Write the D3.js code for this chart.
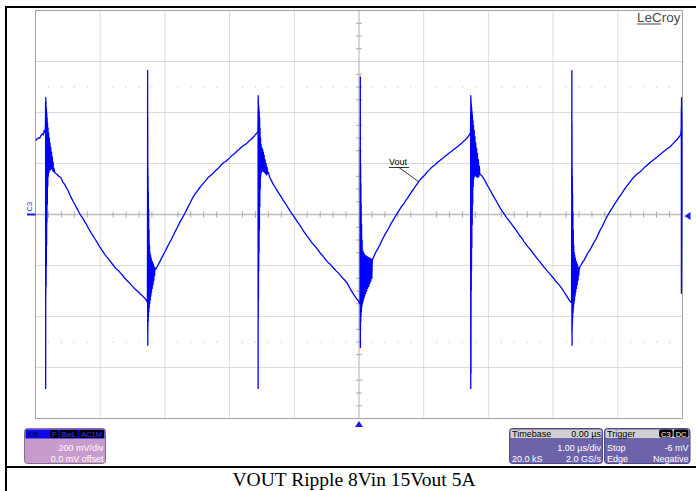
<!DOCTYPE html>
<html>
<head>
<meta charset="utf-8">
<script src="https://cdn.jsdelivr.net/npm/d3@7"></script>
<style>
  html, body { margin: 0; padding: 0; background: #fff; }
  svg { display: block; }
</style>
</head>
<body>
<svg id="chart" width="696" height="491"></svg>
<script>
// ---- scope settings ----
const xDivsUs = [-5, -4, -3, -2, -1, 0, 1, 2, 3, 4, 5];          // 1.00 µs/div
const yDivsMv = [-800, -600, -400, -200, 0, 200, 400, 600, 800];  // 200 mV/div
const triggerLevelMv = -6;
const triggerTimeUs = 0;

// ---- C3 trace: [time µs, voltage mV] ----
const trace = [
  [-5.000, 290], [-4.975, 296], [-4.955, 301], [-4.935, 299], [-4.915, 310], [-4.895, 316], [-4.880, 312], [-4.865, 330], [-4.852, 322],
  // switching edge
  [-4.846, 352], [-4.844, 440], [-4.843, -682], [-4.841, 458], [-4.840, -309], [-4.838, 445], [-4.836, -280], [-4.834, 420], [-4.832, -200],
  [-4.830, 412], [-4.828, -120], [-4.826, 396], [-4.823, -30], [-4.820, 380], [-4.817, 40], [-4.814, 360], [-4.810, 110], [-4.806, 340],
  [-4.802, 150], [-4.797, 320], [-4.792, 165], [-4.787, 300], [-4.782, 172], [-4.776, 282], [-4.770, 176], [-4.764, 262], [-4.758, 180],
  [-4.752, 245], [-4.746, 178], [-4.740, 225], [-4.734, 172], [-4.728, 205], [-4.722, 168], [-4.715, 182],
  // discharge ramp
  [-4.700, 164], [-4.670, 158], [-4.640, 150], [-4.609, 145], [-4.580, 128], [-4.550, 118], [-4.520, 104], [-4.490, 90], [-4.454, 69],
  [-4.420, 52], [-4.390, 38], [-4.360, 24], [-4.330, 10], [-4.300, -4], [-4.270, -14], [-4.240, -28], [-4.210, -40], [-4.180, -55],
  [-4.145, -70], [-4.110, -84], [-4.080, -96], [-4.050, -108], [-4.020, -122], [-3.991, -133], [-3.960, -145], [-3.930, -156],
  [-3.900, -166], [-3.870, -175], [-3.837, -186], [-3.800, -198], [-3.770, -208], [-3.740, -216], [-3.710, -222], [-3.682, -231],
  [-3.650, -240], [-3.620, -250], [-3.590, -258], [-3.560, -265], [-3.528, -274], [-3.500, -282], [-3.470, -290], [-3.440, -297],
  [-3.410, -304], [-3.380, -312], [-3.350, -318], [-3.320, -326], [-3.296, -333], [-3.280, -340],
  // switching edge
  [-3.270, -345], [-3.268, 120], [-3.267, 564], [-3.266, -466], [-3.265, 380], [-3.264, -513], [-3.263, 184], [-3.262, -440], [-3.260, 150],
  [-3.258, -420], [-3.256, 90], [-3.254, -400], [-3.251, 20], [-3.248, -380], [-3.245, -60], [-3.242, -365], [-3.238, -120], [-3.234, -349],
  [-3.230, -150], [-3.226, -335], [-3.222, -160], [-3.217, -320], [-3.212, -170], [-3.207, -305], [-3.202, -180], [-3.196, -290],
  [-3.190, -188], [-3.184, -275], [-3.178, -195], [-3.172, -260], [-3.166, -205], [-3.160, -240], [-3.154, -210],
  // charge ramp
  [-3.140, -214], [-3.110, -200], [-3.080, -186], [-3.050, -170], [-3.020, -156], [-2.988, -141], [-2.960, -126], [-2.930, -112],
  [-2.900, -98], [-2.870, -82], [-2.840, -66], [-2.810, -52], [-2.780, -36], [-2.750, -22], [-2.710, -4], [-2.680, 10], [-2.650, 26],
  [-2.620, 40], [-2.590, 56], [-2.560, 70], [-2.530, 82], [-2.500, 92], [-2.470, 102], [-2.440, 112], [-2.410, 121], [-2.380, 130],
  [-2.339, 143], [-2.300, 152], [-2.270, 158], [-2.240, 166], [-2.210, 174], [-2.180, 180], [-2.150, 188], [-2.120, 197], [-2.090, 204],
  [-2.060, 208], [-2.030, 215], [-2.000, 222], [-1.970, 230], [-1.940, 235], [-1.910, 242], [-1.880, 250], [-1.850, 256], [-1.820, 264],
  [-1.790, 270], [-1.760, 274], [-1.730, 280], [-1.700, 288], [-1.670, 294], [-1.640, 302], [-1.610, 310], [-1.585, 318], [-1.570, 322],
  // switching edge
  [-1.562, 330], [-1.560, 410], [-1.559, -682], [-1.558, 466], [-1.557, -403], [-1.556, 450], [-1.554, -330], [-1.552, 430], [-1.550, -220],
  [-1.548, 420], [-1.545, -150], [-1.542, 405], [-1.539, -60], [-1.536, 380], [-1.533, 30], [-1.530, 340], [-1.526, 100], [-1.522, 300],
  [-1.518, 150], [-1.513, 275], [-1.508, 165], [-1.502, 262], [-1.496, 170], [-1.490, 255], [-1.484, 172], [-1.478, 245], [-1.472, 168],
  [-1.466, 232], [-1.460, 165], [-1.452, 215], [-1.444, 160], [-1.436, 200], [-1.428, 155], [-1.420, 185], [-1.410, 160], [-1.400, 165],
  // discharge ramp
  [-1.380, 146], [-1.350, 131], [-1.320, 116], [-1.289, 104], [-1.260, 92], [-1.230, 80], [-1.200, 68], [-1.170, 55], [-1.135, 43],
  [-1.100, 28], [-1.070, 16], [-1.040, 4], [-1.010, -6], [-0.980, -18], [-0.950, -30], [-0.920, -40], [-0.890, -52], [-0.860, -64],
  [-0.830, -75], [-0.800, -86], [-0.770, -96], [-0.740, -106], [-0.710, -116], [-0.680, -124], [-0.650, -134], [-0.620, -144],
  [-0.594, -153], [-0.560, -162], [-0.530, -172], [-0.500, -182], [-0.470, -190], [-0.440, -196], [-0.410, -206], [-0.380, -214],
  [-0.350, -222], [-0.320, -229], [-0.286, -239], [-0.250, -250], [-0.220, -258], [-0.190, -266], [-0.160, -280], [-0.130, -294],
  [-0.100, -306], [-0.070, -318], [-0.040, -329], [-0.010, -340], [0.010, -349],
  // switching edge
  [0.016, -330], [0.018, 262], [0.019, -454], [0.020, 540], [0.021, -521], [0.022, 250], [0.023, -440], [0.025, 200], [0.027, -420],
  [0.029, 120], [0.031, -400], [0.034, 40], [0.037, -380], [0.040, -40], [0.044, -364], [0.048, -100], [0.053, -350], [0.058, -141],
  [0.064, -340], [0.070, -150], [0.076, -330], [0.082, -155], [0.088, -320], [0.095, -160], [0.102, -310], [0.110, -162], [0.118, -300],
  [0.126, -165], [0.134, -290], [0.142, -168], [0.150, -282], [0.158, -170], [0.166, -272], [0.174, -172], [0.182, -262], [0.190, -175],
  [0.198, -250], [0.206, -178],
  // charge ramp
  [0.224, -168], [0.255, -150], [0.286, -137], [0.320, -120], [0.350, -104], [0.378, -90], [0.410, -74], [0.440, -62], [0.470, -48],
  [0.500, -34], [0.533, -20], [0.565, -6], [0.595, 6], [0.625, 18], [0.660, 32], [0.690, 42], [0.720, 54], [0.750, 64], [0.780, 76],
  [0.810, 88], [0.840, 98], [0.870, 110], [0.900, 120], [0.930, 132], [0.960, 140], [0.990, 148], [1.020, 156], [1.058, 168],
  [1.090, 176], [1.120, 184], [1.150, 190], [1.180, 196], [1.212, 204], [1.240, 210], [1.270, 216], [1.300, 222], [1.330, 228],
  [1.366, 235], [1.400, 242], [1.430, 248], [1.460, 254], [1.490, 260], [1.521, 266], [1.550, 272], [1.580, 278], [1.613, 286],
  [1.640, 292], [1.670, 300], [1.700, 310], [1.718, 318],
  // switching edge
  [1.724, 325], [1.726, 400], [1.727, -682], [1.728, 466], [1.729, -325], [1.730, 455], [1.731, -623], [1.733, 440], [1.735, -300],
  [1.737, 430], [1.739, -220], [1.741, 420], [1.744, -130], [1.747, 405], [1.750, -40], [1.753, 390], [1.757, 40], [1.761, 370],
  [1.765, 110], [1.770, 350], [1.775, 140], [1.780, 330], [1.786, 150], [1.792, 305], [1.798, 155], [1.804, 280], [1.810, 150],
  [1.817, 260], [1.824, 148], [1.831, 240], [1.838, 145], [1.845, 215], [1.852, 150], [1.860, 190], [1.868, 158],
  // discharge ramp
  [1.880, 156], [1.905, 150], [1.930, 140], [1.960, 126], [1.990, 112], [2.030, 94], [2.060, 80], [2.090, 66], [2.120, 54], [2.150, 40],
  [2.185, 24], [2.215, 12], [2.245, 2], [2.275, -10], [2.305, -20], [2.339, -31], [2.370, -42], [2.400, -52], [2.430, -62], [2.460, -74],
  [2.494, -86], [2.525, -96], [2.555, -108], [2.585, -118], [2.615, -128], [2.648, -137], [2.680, -148], [2.710, -158], [2.740, -168],
  [2.770, -178], [2.802, -188], [2.835, -198], [2.865, -208], [2.895, -217], [2.925, -226], [2.957, -235], [2.990, -245], [3.020, -254],
  [3.050, -264], [3.080, -272], [3.111, -282], [3.140, -292], [3.170, -304], [3.204, -317], [3.230, -328], [3.255, -338],
  // switching edge
  [3.285, -345], [3.288, 100], [3.290, 564], [3.291, -466], [3.292, 360], [3.293, -513], [3.294, 184], [3.295, -450], [3.297, 150],
  [3.299, -425], [3.301, 80], [3.303, -405], [3.306, 10], [3.309, -385], [3.312, -60], [3.315, -368], [3.319, -120], [3.323, -350],
  [3.327, -150], [3.331, -336], [3.335, -160], [3.340, -320], [3.345, -172], [3.350, -305], [3.355, -182], [3.361, -290], [3.367, -190],
  [3.373, -275], [3.379, -198], [3.385, -258], [3.391, -208], [3.397, -238], [3.403, -214],
  // charge ramp
  [3.415, -205], [3.440, -194], [3.465, -184], [3.482, -178], [3.510, -164], [3.540, -150], [3.574, -137], [3.605, -122], [3.635, -108],
  [3.667, -94], [3.700, -76], [3.730, -60], [3.759, -47], [3.790, -30], [3.820, -14], [3.852, 0], [3.885, 14], [3.915, 26], [3.945, 39],
  [3.975, 50], [4.005, 62], [4.037, 74], [4.070, 86], [4.100, 98], [4.130, 108], [4.161, 118], [4.192, 129], [4.225, 140], [4.255, 148],
  [4.284, 156], [4.315, 162], [4.346, 168], [4.380, 176], [4.410, 184], [4.440, 190], [4.470, 197], [4.500, 204], [4.530, 210],
  [4.560, 216], [4.590, 222], [4.620, 228], [4.655, 235], [4.685, 242], [4.715, 248], [4.745, 254], [4.775, 260], [4.809, 266],
  [4.840, 274], [4.870, 282], [4.900, 290], [4.917, 294], [4.940, 302], [4.963, 309], [4.975, 318],
  // switching edge (cut at the right edge)
  [4.980, 340], [4.982, 420], [4.983, -309], [4.985, 458], [4.986, -280], [4.988, 440], [4.989, -200], [4.991, 420], [4.993, -120],
  [4.995, 400], [4.997, 0], [5.000, 380]
];

// ---- annotation & readouts ----
const traceLabel = "Vout";
const traceLabelAnchor = [0.92, 129];
const channelName = "C3";
const channelTags = ["F", "BwL", "AC1M"];
const channelLines = ["200 mV/div", "0.0 mV offset"];
const timebaseRows = [["Timebase", "0.00 µs"], ["", "1.00 µs/div"], ["20.0 kS", "2.0 GS/s"]];
const triggerRows = [["Trigger", ""], ["Stop", "-6 mV"], ["Edge", "Negative"]];
const triggerTags = ["C3", "DC"];
const brand = "LeCroy";
const caption = "VOUT Ripple 8Vin 15Vout 5A";

// ---- drawing ----
const svg = d3.select("#chart");
const UI_FONT = "'Liberation Sans', Arial, sans-serif";

svg.append("rect").attr("width", 696).attr("height", 491).attr("fill", "#fff");

const x = d3.scaleLinear().domain([-5, 5]).range([35.5, 682.5]);
const y = d3.scaleLinear().domain([-800, 800]).range([418.5, 10.5]);
const [x0, x1] = x.range();
const [yb, yt] = y.range();

// page frame and caption rule
svg.append("line").attr("x1", 6).attr("x2", 6).attr("y1", 6).attr("y2", 491).attr("stroke", "#000").attr("stroke-width", 2);
svg.append("line").attr("x1", 5).attr("x2", 696).attr("y1", 7).attr("y2", 7).attr("stroke", "#000").attr("stroke-width", 2);
svg.append("line").attr("x1", 5).attr("x2", 696).attr("y1", 467).attr("y2", 467).attr("stroke", "#000").attr("stroke-width", 2);

// graticule
const grid = svg.append("g");
grid.selectAll(".vg").data(xDivsUs.slice(1, -1).filter(d => d !== 0)).join("line")
  .attr("x1", d => x(d)).attr("x2", d => x(d)).attr("y1", yt).attr("y2", yb)
  .attr("stroke", "#b9b9b9").attr("stroke-dasharray", "1,1");
grid.selectAll(".hg").data(yDivsMv.slice(1, -1).filter(d => d !== 0)).join("line")
  .attr("x1", x0).attr("x2", x1).attr("y1", d => y(d)).attr("y2", d => y(d))
  .attr("stroke", "#b9b9b9").attr("stroke-dasharray", "1,1");

// dotted quarter rows at ±2.5 div
const minorX = d3.range(-50, 51, 2).map(k => k / 10).filter(d => Math.abs(d % 1) > 1e-6);
[-500, 500].forEach(v => {
  grid.selectAll(null).data(minorX).join("rect")
    .attr("x", d => x(d) - 0.5).attr("y", y(v) - 0.5).attr("width", 1).attr("height", 1)
    .attr("fill", "#b0b0b0");
});

// centre axes with minor ticks
grid.append("line").attr("x1", x0).attr("x2", x1).attr("y1", y(0)).attr("y2", y(0))
  .attr("stroke", "#bdbdbd").attr("stroke-width", 1.6);
grid.append("line").attr("x1", x(0)).attr("x2", x(0)).attr("y1", yt).attr("y2", yb)
  .attr("stroke", "#bdbdbd").attr("stroke-width", 1.2);
grid.selectAll(".mx").data(minorX).join("line")
  .attr("x1", d => x(d)).attr("x2", d => x(d)).attr("y1", y(0) - 3).attr("y2", y(0) + 3)
  .attr("stroke", "#a8a8a8");
const minorY = d3.range(-16, 17).map(k => k * 50).filter(d => d % 200 !== 0);
grid.selectAll(".my").data(minorY).join("line")
  .attr("x1", x(0) - 3).attr("x2", x(0) + 3).attr("y1", d => y(d)).attr("y2", d => y(d))
  .attr("stroke", "#a8a8a8");

// plot border
svg.append("rect").attr("x", x0).attr("y", yt).attr("width", x1 - x0).attr("height", yb - yt)
  .attr("fill", "none").attr("stroke", "#a4a4a4");

// brand mark
svg.append("text").attr("x", 637).attr("y", 22).text(brand)
  .attr("font-family", UI_FONT).attr("font-size", 13.5).attr("fill", "#4a4a4a");
svg.append("line").attr("x1", 637).attr("x2", 661).attr("y1", 24).attr("y2", 24)
  .attr("stroke", "#4a4a4a").attr("stroke-width", 1);

// trace
svg.append("clipPath").attr("id", "plotClip").append("rect")
  .attr("x", x0).attr("y", yt).attr("width", x1 - x0).attr("height", yb - yt);
const line = d3.line().x(d => x(d[0])).y(d => y(d[1]));
svg.append("path").datum(trace).attr("d", line)
  .attr("clip-path", "url(#plotClip)")
  .attr("fill", "none").attr("stroke", "#0000ff").attr("stroke-width", 1.3)
  .attr("stroke-linejoin", "round");

// trace label with leader
const lx = 389, ly = 165;
svg.append("text").attr("x", lx).attr("y", ly).text(traceLabel)
  .attr("font-family", UI_FONT).attr("font-size", 9).attr("fill", "#000");
svg.append("line").attr("x1", lx).attr("x2", lx + 20).attr("y1", ly + 2.5).attr("y2", ly + 2.5)
  .attr("stroke", "#000").attr("stroke-width", 0.8);
svg.append("line").attr("x1", lx + 10).attr("y1", ly + 2.5)
  .attr("x2", x(traceLabelAnchor[0])).attr("y2", y(traceLabelAnchor[1]))
  .attr("stroke", "#000").attr("stroke-width", 0.8);

// channel ground marker on the left
svg.append("line").attr("x1", 27).attr("x2", x0).attr("y1", y(0)).attr("y2", y(0))
  .attr("stroke", "#1a1aff").attr("stroke-width", 2);
svg.append("text").attr("transform", `translate(32,${y(0) - 3}) rotate(-90)`).text(channelName)
  .attr("font-family", UI_FONT).attr("font-size", 7.5).attr("fill", "#2a2aff");

// trigger level marker (right) and trigger position marker (bottom)
const ty = y(triggerLevelMv);
svg.append("path").attr("d", `M${x1 + 2},${ty} L${x1 + 8},${ty - 4} L${x1 + 8},${ty + 4} Z`).attr("fill", "#1a1aff");
const tx = x(triggerTimeUs);
svg.append("path").attr("d", `M${tx},${yb + 2.5} L${tx - 4},${yb + 8.5} L${tx + 4},${yb + 8.5} Z`).attr("fill", "#1a1aff");

// ---- readout boxes ----
function tagRow(g, tags, right, yTop, txtFill) {
  let cur = right;
  for (let i = tags.length - 1; i >= 0; i--) {
    const t = g.append("text").text(tags[i]).attr("font-family", UI_FONT).attr("font-size", 7.5)
      .attr("fill", txtFill).attr("text-anchor", "middle");
    const w = t.node().getComputedTextLength() + 4;
    g.insert("rect", "text").attr("x", cur - w).attr("y", yTop).attr("width", w).attr("height", 8)
      .attr("rx", 2).attr("fill", "#000");
    t.attr("x", cur - w / 2).attr("y", yTop + 7);
    cur -= w + 1;
  }
}

// channel box
const cb = svg.append("g");
cb.append("rect").attr("x", 24.5).attr("y", 428.5).attr("width", 81).attr("height", 35).attr("rx", 3)
  .attr("fill", "#c79bcb").attr("stroke", "#8d6b92");
cb.append("rect").attr("x", 25.5).attr("y", 429.5).attr("width", 79).attr("height", 9).attr("fill", "#0a0ae8");
cb.append("text").attr("x", 28).attr("y", 437).text(channelName)
  .attr("font-family", UI_FONT).attr("font-size", 8).attr("font-weight", "bold").attr("fill", "#000060");
tagRow(cb, channelTags, 104, 430, "#3a3aff");
channelLines.forEach((s, i) => {
  cb.append("text").attr("x", 103.5).attr("y", 451 + i * 11).text(s)
    .attr("text-anchor", "end").attr("font-family", UI_FONT).attr("font-size", 9).attr("fill", "#fff");
});

function readoutBox(left, width, rows) {
  const g = svg.append("g");
  g.append("rect").attr("x", left).attr("y", 428.5).attr("width", width).attr("height", 35).attr("rx", 3)
    .attr("fill", "#6c63ab").attr("stroke", "#4e4788");
  g.append("rect").attr("x", left + 1).attr("y", 429.5).attr("width", width - 2).attr("height", 8.5)
    .attr("rx", 1.5).attr("fill", "#d0d0d0");
  rows.forEach((r, i) => {
    const yy = i === 0 ? 436.5 : 440 + i * 11;
    const col = i === 0 ? "#000" : "#fff";
    g.append("text").attr("x", left + 2.5).attr("y", yy).text(r[0])
      .attr("font-family", UI_FONT).attr("font-size", 9).attr("fill", col);
    g.append("text").attr("x", left + width - 1.5).attr("y", yy).text(r[1])
      .attr("text-anchor", "end").attr("font-family", UI_FONT).attr("font-size", 9).attr("fill", col);
  });
  return g;
}
readoutBox(509.5, 93, timebaseRows);
const tg = readoutBox(604.5, 85.5, triggerRows);
tagRow(tg, triggerTags, 688.5, 429.5, "#fff");

// caption
svg.append("text").attr("x", 354).attr("y", 486).text(caption)
  .attr("text-anchor", "middle").attr("font-family", "'Liberation Serif', 'Times New Roman', serif")
  .attr("font-size", 19.5).attr("fill", "#000");
</script>
</body>
</html>
